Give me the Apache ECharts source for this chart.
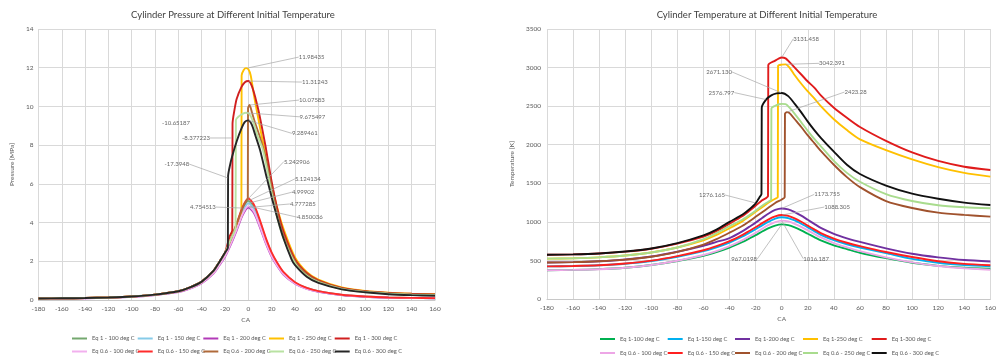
<!DOCTYPE html>
<html>
<head>
<meta charset="utf-8">
<script src="https://cdn.jsdelivr.net/npm/echarts@6/dist/echarts.min.js"></script>
<style>
html,body{margin:0;padding:0;background:#fff;}
#wrap{position:relative;width:999px;height:359px;overflow:hidden;}
#left{position:absolute;left:0;top:0;width:500px;height:359px;}
#right{position:absolute;left:500px;top:0;width:499px;height:359px;}
</style>
</head>
<body>
<div id="wrap"><div id="left"></div><div id="right"></div></div>
<script>
// ---------------- shared crank-angle grid (motoring curves) ----------------
const CA_M = [-180,-160,-140,-120,-100,-80,-60,-50,-40,-30,-25,-20,-15,-10,-5,0,5,10,15,20,25,30,40,50,60,80,100,120,140,160];
const X_TICKS = {min:-180, max:160, interval:20};

// ---------------- Pressure [MPa] ----------------
const P_EQ1_100  = [0.08,0.09,0.10,0.13,0.18,0.27,0.44,0.64,0.93,1.47,1.91,2.39,3.08,3.86,4.69,5.12,4.79,4.00,3.13,2.39,1.86,1.42,0.90,0.62,0.45,0.26,0.18,0.13,0.11,0.09];
const P_EQ1_150  = [0.08,0.09,0.10,0.12,0.17,0.27,0.43,0.62,0.91,1.43,1.86,2.34,3.00,3.77,4.58,5.00,4.67,3.91,3.05,2.34,1.81,1.38,0.88,0.60,0.44,0.26,0.17,0.12,0.10,0.09];
const P_EQ1_200  = [0.07,0.08,0.09,0.12,0.16,0.26,0.41,0.59,0.87,1.37,1.78,2.23,2.87,3.60,4.38,4.78,4.47,3.74,2.92,2.23,1.73,1.32,0.84,0.57,0.42,0.25,0.16,0.12,0.10,0.09];
const P_EQ06_100 = [0.07,0.08,0.09,0.12,0.17,0.26,0.42,0.60,0.88,1.39,1.81,2.27,2.92,3.66,4.44,4.85,4.54,3.80,2.96,2.27,1.76,1.34,0.85,0.58,0.43,0.25,0.17,0.12,0.10,0.09];
const P_EQ06_150 = [0.08,0.09,0.10,0.13,0.18,0.28,0.45,0.65,0.95,1.50,1.95,2.45,3.15,3.95,4.80,5.24,4.90,4.10,3.20,2.45,1.90,1.45,0.92,0.63,0.46,0.27,0.18,0.13,0.11,0.095];

const CA_P_EQ1_250 = [-180,-160,-140,-120,-100,-80,-60,-50,-40,-30,-25,-20,-15,-10,-6,-5.8,-4,-2,0,2,5,10,15,20,25,30,40,50,60,80,100,120,140,160];
const P_EQ1_250    = [0.08,0.09,0.10,0.13,0.18,0.28,0.45,0.65,0.95,1.50,1.95,2.45,3.1,3.85,4.35,11.6,11.88,11.98,11.92,11.6,10.5,8.9,7.4,5.95,4.7,3.7,2.2,1.45,1.05,0.65,0.47,0.38,0.33,0.30];
const CA_P_EQ1_300 = [-180,-160,-140,-120,-100,-80,-60,-50,-40,-30,-25,-20,-16,-13.8,-13.6,-12,-10,-6,-3,0,3,6,9,12,15,20,25,30,40,50,60,80,100,120,140,160];
const P_EQ1_300    = [0.08,0.09,0.10,0.13,0.18,0.28,0.45,0.65,0.95,1.50,1.95,2.45,3.3,3.6,9.1,9.8,10.4,11.0,11.25,11.31,11.05,10.45,9.7,8.8,7.85,6.1,4.65,3.55,2.1,1.4,1.02,0.63,0.46,0.37,0.32,0.29];
const CA_P_EQ06_200 = [-180,-160,-140,-120,-100,-80,-60,-50,-40,-30,-25,-20,-15,-10,-5,-2,-0.5,-0.3,1,3,6,10,15,20,25,30,40,50,60,80,100,120,140,160];
const P_EQ06_200    = [0.08,0.09,0.10,0.13,0.18,0.28,0.45,0.65,0.95,1.50,1.95,2.45,3.15,3.95,4.75,5.1,5.25,9.9,10.07,9.7,9.1,8.4,7.3,5.8,4.4,3.35,2.0,1.33,0.98,0.6,0.44,0.35,0.3,0.27];
const CA_P_EQ06_250 = [-180,-160,-140,-120,-100,-80,-60,-50,-40,-30,-25,-20,-15,-11,-10.7,-8,-5,-2,0,2,5,8,12,15,20,25,30,40,50,60,80,100,120,140,160];
const P_EQ06_250    = [0.08,0.09,0.10,0.13,0.18,0.28,0.45,0.65,0.95,1.50,1.95,2.45,3.15,3.75,9.3,9.5,9.62,9.67,9.66,9.5,9.05,8.45,7.85,7.05,5.5,4.2,3.2,1.9,1.25,0.92,0.57,0.41,0.33,0.28,0.25];
const CA_P_EQ06_300 = [-180,-160,-140,-120,-100,-80,-60,-50,-40,-30,-25,-20,-17.6,-17.4,-16,-14,-10,-6,-3,0,3,6,10,15,20,25,30,37,40,50,60,80,100,120,140,160];
const P_EQ06_300    = [0.08,0.09,0.10,0.13,0.18,0.28,0.45,0.65,0.95,1.50,1.95,2.45,2.7,6.4,6.9,7.4,8.2,8.85,9.2,9.28,9.05,8.5,7.75,6.5,5.3,4.2,3.2,2.1,1.8,1.2,0.88,0.55,0.4,0.3,0.25,0.22];

// ---------------- Temperature [K] ----------------
const T_EQ1_100  = [373,377,387,406,440,493,561,609,667,740,783,827,875,919,952,967,957,928,890,846,803,759,696,648,600,530,470,430,405,392];
const T_EQ1_150  = [423,427,437,457,492,548,620,670,732,810,857,904,955,1002,1042,1060,1049,1018,975,928,880,832,763,710,668,594,520,470,440,425];
const T_EQ1_200  = [473,478,489,512,551,613,690,740,790,880,935,990,1050,1108,1154,1174,1162,1127,1080,1027,974,922,845,787,740,657,587,540,505,487];
const T_EQ06_100 = [373,377,386,405,440,496,570,620,684,763,810,858,910,960,997,1016,1006,975,935,889,843,798,725,670,620,540,475,428,398,380];
const T_EQ06_150 = [423,428,438,460,497,556,632,685,750,832,881,930,984,1033,1071,1088,1077,1045,1001,952,903,854,783,729,685,609,544,490,455,438];

const CA_T_EQ1_250 = [-180,-160,-140,-120,-100,-80,-60,-50,-40,-30,-25,-20,-15,-10,-5,-3,-2.8,0,3,6,10,15,20,25,30,40,50,60,80,100,120,140,160];
const T_EQ1_250    = [523,528,540,563,603,668,760,830,917,1010,1070,1130,1190,1250,1300,1320,3020,3038,3042,3000,2900,2790,2690,2600,2500,2330,2190,2070,1930,1810,1710,1635,1587];
const CA_T_EQ1_300 = [-180,-160,-140,-120,-100,-80,-60,-50,-40,-30,-25,-20,-15,-10.5,-10.3,-5,-2,0,3,6,10,15,20,25,30,40,50,60,80,100,120,140,160];
const T_EQ1_300    = [573,578,590,614,652,718,810,880,975,1075,1140,1210,1280,1335,3030,3090,3120,3131,3120,3070,3000,2910,2820,2740,2640,2480,2350,2230,2050,1900,1790,1715,1673];
const CA_T_EQ06_200 = [-180,-160,-140,-120,-100,-80,-60,-50,-40,-30,-25,-20,-15,-10,-5,0,2.3,2.5,4,6,10,15,20,25,30,40,50,60,80,100,120,140,160];
const T_EQ06_200    = [473,478,489,510,548,610,705,775,860,950,1005,1065,1125,1185,1245,1290,1320,2400,2423,2410,2330,2230,2120,2020,1920,1740,1580,1450,1270,1180,1120,1090,1068];
const CA_T_EQ06_250 = [-180,-160,-140,-120,-100,-80,-60,-50,-40,-30,-25,-20,-15,-10,-8.1,-7.9,-5,-2,0,3,6,10,15,20,25,30,40,50,60,80,100,120,140,160];
const T_EQ06_250    = [523,528,540,563,602,668,775,855,945,1030,1085,1145,1210,1265,1290,2470,2505,2525,2529,2525,2480,2400,2290,2180,2075,1980,1790,1635,1520,1360,1270,1215,1190,1176];
const CA_T_EQ06_300 = [-180,-160,-140,-120,-100,-80,-60,-50,-40,-30,-25,-20,-17,-15.5,-15.3,-12,-8,-4,0,5,10,15,20,25,30,40,50,60,80,100,120,140,160];
const T_EQ06_300    = [573,578,590,615,655,725,825,900,1000,1095,1160,1240,1320,1360,2480,2585,2640,2665,2671,2630,2530,2420,2300,2190,2090,1910,1740,1620,1470,1365,1300,1250,1219];

// ---------------- names ----------------
const P_NAMES = ['Eq 1 - 100 deg C','Eq 1 - 150 deg C','Eq 1 - 200 deg C','Eq 1 - 250 deg C','Eq 1 - 300 deg C',
                 'Eq 0.6 - 100 deg C','Eq 0.6 - 150 deg C','Eq 0.6 - 200 deg C','Eq 0.6 - 250 deg C','Eq 0.6 - 300 deg C'];
const T_NAMES = ['Eq 1-100 deg C','Eq 1-150 deg C','Eq 1-200 deg C','Eq 1-250 deg C','Eq 1-300 deg C',
                 'Eq 0.6 - 100 deg C','Eq 0.6 - 150 deg C','Eq 0.6 - 200 deg C','Eq 0.6 - 250 deg C','Eq 0.6 - 300 deg C'];

// ---------------- annotations (anchor in data coords + text) ----------------
const P_ANN_POS  = [[-1,11.98],[0,11.31],[1,10.07],[-2,9.67],[0,9.28],[-13.6,9.15],[-13.6,8.37],[-17.4,6.3],[0,5.24],[0,5.12],[0,5.0],[0,4.78],[0,4.85],[-5,4.75]];
const P_ANN_TEXT = ['11.98435','11.31243','10.07583','9.675497','9.289461','-10.65187','-8.377223','-17.3948','5.242906','5.124134','4.99902','4.777285','4.850036','4.754513'];
const T_ANN_POS  = [[0,3131],[3,3042],[0,2671],[-12,2585],[4,2423],[-20,1245],[0,1174],[0,1088],[0,967],[0,1016]];
const T_ANN_TEXT = ['3131.458','3042.391','2671.130','2576.797','2423.28','1276.165','1173.755','1088.305','967.0198','1016.187'];

// ---------------- styling (not data) ----------------
const FONT = 'Lato, "Liberation Sans", sans-serif';
const P_COLORS = ['#74a86f','#86cbe8','#b23ab8','#ffc000','#d01f1f','#f2b0ee','#ff2b2b','#b06a3a','#b9e2a2','#262626'];
const T_COLORS = ['#00b050','#00b0f0','#7030a0','#ffc000','#e01b1b','#eda6e6','#ff1f1f','#a0522d','#a9dc8e','#111111'];
const P_ANN_OFF = [[51,-11],[53,1],[49,-5],[53,4],[43,13],[-71,0],[-51,0],[-64,-14],[35,-37],[46,-22],[43,-11],[41,-3.5],[48,11],[-53,-1]];
const T_ANN_OFF = [[11,-18.5],[33,-1],[-76,-21],[-58,-7],[57,-20],[-57,-8],[32,-14],[42,-8],[-51,35],[21,38]];

function pairs(ca, v){ return ca.map((c,i)=>[c, v[i]]); }

function lineSeries(names, colors, sets){
  return sets.map((s,i)=>({
    name: names[i], type:'line', data: pairs(s[0], s[1]),
    showSymbol:false, symbol:'none', smooth:0.25,
    lineStyle:{width:1.9, color:colors[i]}, itemStyle:{color:colors[i]},
    emphasis:{disabled:true}, z:2+i
  }));
}

function annSeries(pos, text, off, noLine){
  return {
    type:'scatter', data: pos.map((p,i)=> noLine.indexOf(i)>=0 ? {value:p, labelLine:{show:false}} : {value:p}),
    symbolSize:1, itemStyle:{color:'rgba(0,0,0,0)'}, z:30, silent:true,
    label:{show:true, position:'right', distance:0, formatter:(p)=>text[p.dataIndex],
           fontSize:6, color:'#404040', fontFamily:FONT},
    labelLine:{show:true, lineStyle:{color:'#a6a6a6', width:0.7}},
    labelLayout:(params)=>({dx: off[params.dataIndex][0], dy: off[params.dataIndex][1]})
  };
}

function legends(names, colors, xs, tops){
  return names.map((n,i)=>({
    data:[n], left: xs[i%5], top: tops[Math.floor(i/5)], padding:0, itemGap:0,
    icon:'rect', itemWidth:15, itemHeight:2, itemStyle:{color:colors[i]},
    textStyle:{fontSize:5.8, color:'#595959', fontFamily:FONT}, selectedMode:false
  }));
}

function axisCommon(){
  return {
    axisTick:{show:false},
    axisLabel:{fontSize:6.5, color:'#595959', fontFamily:FONT, formatter:(v)=>String(v)},
    splitLine:{show:true, lineStyle:{color:'#d9d9d9', width:1}},
    nameTextStyle:{fontSize:6.5, color:'#595959', fontFamily:FONT}
  };
}

// ---------------- left chart ----------------
const leftChart = echarts.init(document.getElementById('left'), null, {renderer:'canvas'});
const pSets = [[CA_M,P_EQ1_100],[CA_M,P_EQ1_150],[CA_M,P_EQ1_200],[CA_P_EQ1_250,P_EQ1_250],[CA_P_EQ1_300,P_EQ1_300],
               [CA_M,P_EQ06_100],[CA_M,P_EQ06_150],[CA_P_EQ06_200,P_EQ06_200],[CA_P_EQ06_250,P_EQ06_250],[CA_P_EQ06_300,P_EQ06_300]];
const lx = Object.assign(axisCommon(), {type:'value', min:X_TICKS.min, max:X_TICKS.max, interval:X_TICKS.interval,
  name:'CA', nameLocation:'middle', nameGap:15, axisLine:{show:true, lineStyle:{color:'#c8c8c8'}}});
lx.axisLabel.margin = 5;
lx.nameTextStyle.padding = [0,0,0,18];
const ly = Object.assign(axisCommon(), {type:'value', min:0, max:14, interval:2,
  name:'Pressure [MPa]', nameLocation:'middle', nameGap:16, axisLine:{show:false}});
ly.axisLabel.margin = 5;
leftChart.setOption({
  animation:false,
  grid:{left:35, right:65, top:29, bottom:59},
  graphic:[{type:'text', x:233, y:15, style:{text:'Cylinder Pressure at Different Initial Temperature',
    fontSize:9.5, fontFamily:FONT, fill:'#404040', align:'center', verticalAlign:'middle', textAlign:'center', textVerticalAlign:'middle'}}],
  xAxis:lx, yAxis:ly,
  legend: legends(P_NAMES, P_COLORS, [72,137.7,203.3,269,334.7], [335.5,348.5]),
  series: lineSeries(P_NAMES, P_COLORS, pSets).concat([annSeries(P_ANN_POS, P_ANN_TEXT, P_ANN_OFF, [5])])
});

// ---------------- right chart ----------------
const rightChart = echarts.init(document.getElementById('right'), null, {renderer:'canvas'});
const tSets = [[CA_M,T_EQ1_100],[CA_M,T_EQ1_150],[CA_M,T_EQ1_200],[CA_T_EQ1_250,T_EQ1_250],[CA_T_EQ1_300,T_EQ1_300],
               [CA_M,T_EQ06_100],[CA_M,T_EQ06_150],[CA_T_EQ06_200,T_EQ06_200],[CA_T_EQ06_250,T_EQ06_250],[CA_T_EQ06_300,T_EQ06_300]];
const rx = Object.assign(axisCommon(), {type:'value', min:X_TICKS.min, max:X_TICKS.max, interval:X_TICKS.interval,
  name:'CA', nameLocation:'middle', nameGap:15, axisLine:{show:true, lineStyle:{color:'#c8c8c8'}}});
rx.axisLabel.margin = 5;
rx.nameTextStyle.padding = [0,0,0,26];
const ry = Object.assign(axisCommon(), {type:'value', min:0, max:3500, interval:500,
  name:'Temperature [K]', nameLocation:'middle', nameGap:22, axisLine:{show:false}});
ry.axisLabel.margin = 6;
rightChart.setOption({
  animation:false,
  grid:{left:38, right:2, top:29, bottom:60},
  graphic:[{type:'text', x:267, y:15, style:{text:'Cylinder Temperature at Different Initial Temperature',
    fontSize:9.5, fontFamily:FONT, fill:'#404040', align:'center', verticalAlign:'middle', textAlign:'center', textVerticalAlign:'middle'}}],
  xAxis:rx, yAxis:ry,
  legend: legends(T_NAMES, T_COLORS, [100,167.7,235,303,371.7], [336,350]),
  series: lineSeries(T_NAMES, T_COLORS, tSets).concat([annSeries(T_ANN_POS, T_ANN_TEXT, T_ANN_OFF, [])])
});
</script>
</body>
</html>
